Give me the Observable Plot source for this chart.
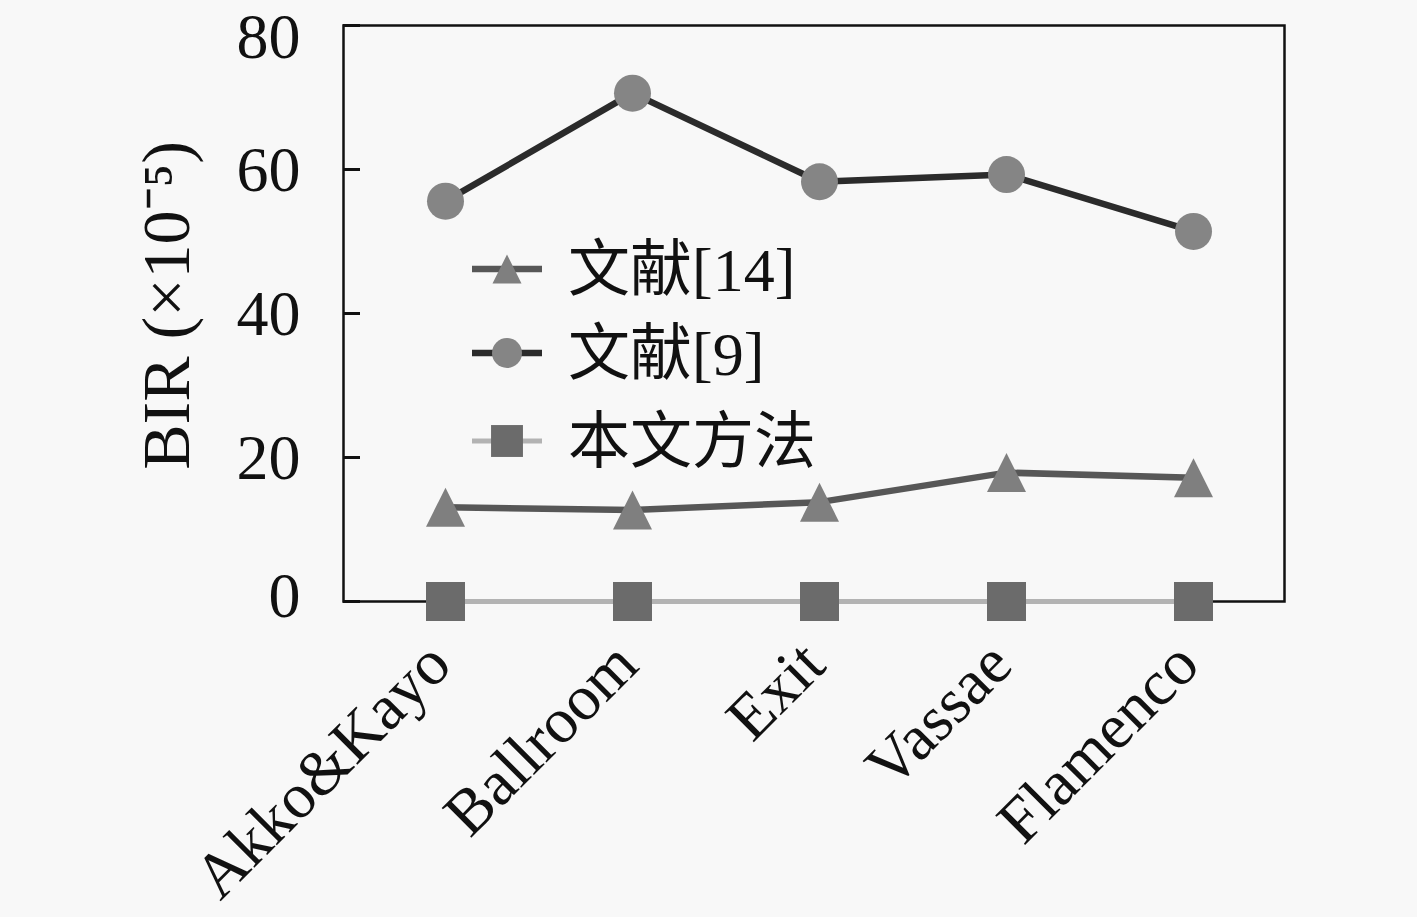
<!DOCTYPE html>
<html>
<head>
<meta charset="utf-8">
<script src="https://cdn.jsdelivr.net/npm/d3@7"></script>
<script src="https://cdn.jsdelivr.net/npm/@observablehq/plot@0.6"></script>
<style>
html,body{margin:0;padding:0;background:#f8f8f8;}
#wrap{position:relative;width:1417px;height:917px;overflow:hidden;background:#f8f8f8;}
#wrap svg.plot{position:absolute;left:0;top:0;}
#legend{position:absolute;left:0;top:0;}
</style>
</head>
<body>
<div id="wrap"></div>
<script>
const scenes = ["Akko&Kayo", "Ballroom", "Exit", "Vassae", "Flamenco"];
const seriesNames = ["文献[14]", "文献[9]", "本文方法"];
const ref14 = [13.1, 12.7, 13.8, 17.9, 17.2];
const ref9 = [55.6, 70.6, 58.3, 59.3, 51.4];
const ours = [0, 0, 0, 0, 0];
const yTicks = [0, 20, 40, 60, 80];
const yLabel = "BIR (×10⁻⁵)";

const serif = "'Liberation Serif','Noto Sans CJK SC',serif";

const W = 1417, H = 917, ML = 343, MR = 133, MT = 25, MB = 316;
const tickLen = 17;

const triangle = {
  draw(context, size) {
    const r = Math.sqrt(size / Math.PI);
    context.moveTo(0, -r);
    context.lineTo(r, r);
    context.lineTo(-r, r);
    context.closePath();
  }
};

const styles = [
  {values: ref14, line: "#575757", lw: 6.5, fill: "#7f7f7f", symbol: triangle, r: 19.5, lr: 14.5},
  {values: ref9, line: "#2b2b2b", lw: 6.5, fill: "#858585", symbol: "circle", r: 18.5, lr: 15},
  {values: ours, line: "#b3b3b3", lw: 5, fill: "#6b6b6b", symbol: "square", r: 22, lr: 18}
];

const yAxisText = {tickSize: 0, tickPadding: 43, fontSize: 64, fontFamily: serif, label: null, fill: "#111"};

const marks = [
  Plot.frame({stroke: "#111", strokeWidth: 2.5}),
  // inward ticks on the left spine
  Plot.ruleY(yTicks, {y: d => d, insetRight: (W - ML - MR) - tickLen, stroke: "#111", strokeWidth: 3}),
  Plot.axisY(yTicks.filter(t => t === 80), {...yAxisText, dy: 12}),
  Plot.axisY(yTicks.filter(t => t > 0 && t < 80), {...yAxisText, dy: 1}),
  Plot.axisY(yTicks.filter(t => t === 0), {...yAxisText, dy: -5}),
  Plot.axisX({tickSize: 0, tickRotate: -45, fontSize: 64, fontFamily: serif, label: null, fill: "#111", tickPadding: 52, dx: -6}),
  Plot.text([yLabel], {frameAnchor: "left", dx: -176, dy: -8, rotate: -90, text: d => d, fontSize: 68, fontFamily: serif, textAnchor: "middle", lineAnchor: "middle", fill: "#111"})
];

styles.forEach((s, k) => {
  const rows = scenes.map((scene, i) => ({scene, value: s.values[i], series: seriesNames[k]}));
  marks.push(Plot.line(rows, {x: "scene", y: "value", stroke: s.line, strokeWidth: s.lw, strokeLinejoin: "round"}));
  marks.push(Plot.dot(rows, {x: "scene", y: "value", symbol: s.symbol, r: s.r, fill: s.fill, stroke: "none"}));
});

const chart = Plot.plot({
  width: W,
  height: H,
  marginLeft: ML,
  marginRight: MR,
  marginTop: MT,
  marginBottom: MB,
  style: {background: "#f8f8f8", overflow: "visible"},
  x: {type: "point", domain: scenes, padding: 0, insetLeft: 100, insetRight: 90},
  y: {domain: [0, 80], ticks: yTicks},
  marks
});
chart.classList.add("plot");
const wrap = document.getElementById("wrap");
wrap.appendChild(chart);

// legend
const lg = d3.select(wrap).append("svg").attr("id", "legend").attr("width", W).attr("height", H);
const rowY = [269, 353, 441];
styles.forEach((s, k) => {
  const g = lg.append("g").attr("transform", `translate(0,${rowY[k]})`);
  g.append("line").attr("x1", 472).attr("x2", 542).attr("y1", 0).attr("y2", 0)
    .attr("stroke", s.line).attr("stroke-width", s.lw);
  const sym = typeof s.symbol === "string" ? (s.symbol === "circle" ? d3.symbolCircle : d3.symbolSquare) : s.symbol;
  g.append("path").attr("transform", "translate(507,0)")
    .attr("d", d3.symbol(sym, Math.PI * s.lr * s.lr)())
    .attr("fill", s.fill);
  g.append("text").attr("x", 568).attr("y", 0).attr("dy", "0.36em")
    .attr("font-family", serif).attr("font-size", 62).attr("fill", "#111")
    .text(seriesNames[k]);
});
</script>
</body>
</html>
